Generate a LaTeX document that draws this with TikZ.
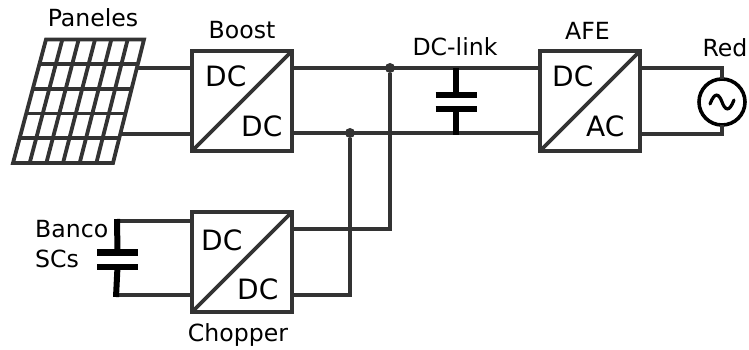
\documentclass[tikz,border=0pt]{standalone}
\usepackage{fontspec}
\setmainfont{DejaVu Sans}
\usetikzlibrary{positioning, calc}
\definecolor{linegray}{HTML}{333333}
\tikzset{
	conv/.style={draw=linegray, line width=4pt, rectangle, minimum size=100pt, inner sep=0pt, outer sep=0pt},
	wire/.style={draw=linegray, line width=3.8pt, line cap=butt},
	plate/.style={draw=black, line width=6.5pt},
	lead/.style={draw=black, line width=6pt},
	lbl/.style={anchor=base, font=\fontsize{23.6}{25}\selectfont, inner sep=0pt, text=black},
	dc/.style={anchor=base west, font=\fontsize{28}{29}\selectfont, inner sep=0pt, text=black},
	junction/.style={circle, fill=linegray, minimum size=10pt, inner sep=0pt, outer sep=0pt}
}
\begin{document}
\begin{tikzpicture}[x=1pt, y=-1pt]
		
		\useasboundingbox (0,0) rectangle (749,350);
		
		% convertidores
		\node[conv] (boost) at (242,101) {};
		\node[conv, right=248pt of boost] (afe) {};
		\node[conv, below=61pt of boost] (chopper) {};
		\draw[wire] (boost.south west) -- (boost.north east);
		\draw[wire] (afe.south west) -- (afe.north east);
		\draw[wire] (chopper.south west) -- (chopper.north east);
		
		\node[dc] (boostin) at (205,87) {DC};
		\node[dc] (boostout) at (241,136) {DC};
		\node[dc] (afein) at (552,87) {DC};
		\node[dc] (afeout) at (586,136) {AC};
		\node[dc] (chopin) at (201,250) {DC};
		\node[dc] (chopout) at (237,299) {DC};
		
		% panel
		\coordinate (pa) at (46,39.5);
		\coordinate (pb) at (144,39.5);
		\coordinate (pc) at (113,163);
		\coordinate (pd) at (13,163);
		\draw[wire, line join=miter] (pa) -- (pb) -- (pc) -- (pd) -- cycle;
		\foreach \i in {1,...,5}
		\draw[wire] ($(pa)!\i/6!(pb)$) -- ($(pd)!\i/6!(pc)$);
		\foreach \j in {1,...,4}
		\draw[wire] ($(pa)!\j/5!(pd)$) -- ($(pb)!\j/5!(pc)$);
		\coordinate (pvtop) at (137,68);
		\coordinate (pvbot) at (120,134);
		\draw[wire] (pvtop) -- (pvtop -| boost.west);
		\draw[wire] (pvbot) -- (pvbot -| boost.west);
		
		% bus
		\node[junction] (jtop) at (390,68) {};
		\node[junction] (jbot) at (350,133) {};
		\draw[wire] (jtop -| boost.east) -- (jtop -| afe.west);
		\draw[wire] (jbot -| boost.east) -- (jbot -| afe.west);
		\coordinate (chopa) at (292,229);
		\coordinate (chopb) at (292,295);
		\draw[wire, line join=miter] (chopa) -| (jtop);
		\draw[wire, line join=miter] (chopb) -| (jbot);
		
		% DC-link
		\coordinate (linktop) at (456,68);
		\coordinate (linkbot) at (456,135);
		\coordinate (linka) at (456,95);
		\coordinate (linkb) at (456,109);
		\draw[lead] (linktop) -- (linka);
		\draw[lead] (linkb) -- (linkbot);
		\draw[plate] ($(linka)+(-20.5,0)$) -- ($(linka)+(20.5,0)$);
		\draw[plate] ($(linkb)+(-20.5,0)$) -- ($(linkb)+(20.5,0)$);
		
		% banco
		\coordinate (sctop) at (117,221);
		\coordinate (scbot) at (116,295);
		\coordinate (sca) at (117.5,252.5);
		\coordinate (scb) at (117.5,267);
		\draw[wire] (sctop) -- (sctop -| chopper.west);
		\draw[wire] (scbot) -- (scbot -| chopper.west);
		\draw[lead] (117,219) -- (sca);
		\draw[lead] (scb) -- (116,297);
		\draw[plate] ($(sca)+(-20.5,0)$) -- ($(sca)+(20.5,0)$);
		\draw[plate] ($(scb)+(-20.5,0)$) -- ($(scb)+(20.5,0)$);
		
		% red
		\node[circle, draw=black, line width=3.6pt, minimum size=46pt, inner sep=0pt, outer sep=0pt] (grid) at (722,102) {};
		\draw[wire] (pvtop -| afe.east) -| (grid.north);
		\draw[wire] (pvbot -| afe.east) -| (grid.south);
		\draw[draw=black, line width=3.2pt, line cap=round] (710,104) .. controls (715,91) and (719,94) .. (722,102) .. controls (725,110) and (729,113) .. (734,100);
		
		% textos
		\node[lbl] (paneles) at (93,27) {Paneles};
		\node[lbl] (boostlbl) at (242,39) {Boost};
		\node[lbl] (dclink) at (455,56) {DC-link};
		\node[lbl] (afelbl) at (587.5,40) {AFE};
		\node[lbl] (redlbl) at (725,57) {Red};
		\node[lbl] (chopperlbl) at (238,341) {Chopper};
		\node[lbl, anchor=base west] (banco) at (35,237) {Banco};
		\node[lbl, anchor=base west] (scs) at (35,267) {SCs};
		
		\end{tikzpicture}
\end{document}
